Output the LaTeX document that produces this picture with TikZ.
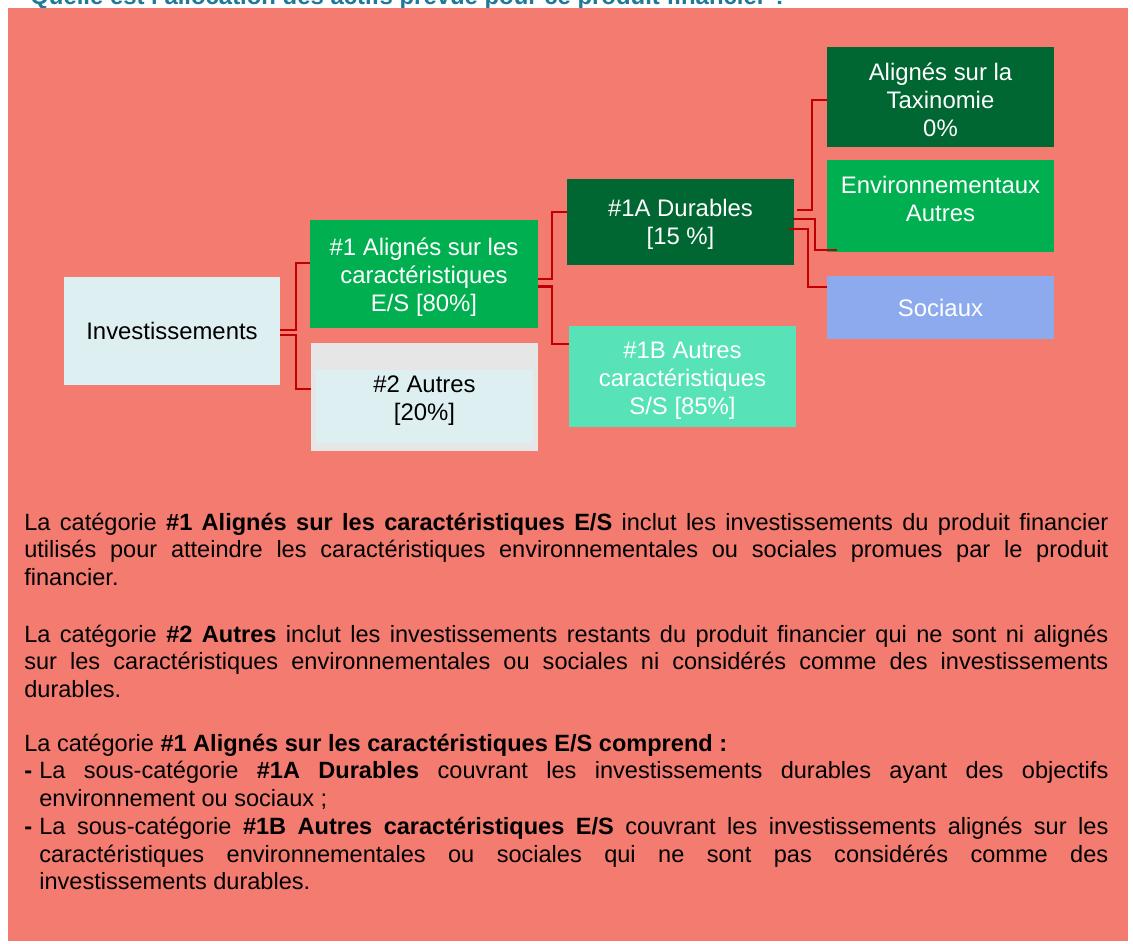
\documentclass[tikz,border=0pt]{standalone}
\usepackage{fontspec}
\setmainfont{Liberation Sans}
\usepackage{tikz}
\usetikzlibrary{positioning}

\definecolor{salmon}{RGB}{243,123,112}
\definecolor{titleteal}{RGB}{30,122,152}
\definecolor{boxlight}{RGB}{222,239,242}
\definecolor{othergray}{RGB}{230,230,230}
\definecolor{esgreen}{RGB}{0,176,80}
\definecolor{darkgreen}{RGB}{0,103,50}
\definecolor{mint}{RGB}{87,227,183}
\definecolor{socblue}{RGB}{142,170,238}
\definecolor{linkred}{RGB}{192,0,0}

\newcommand{\diagfont}{\fontsize{13.6}{15.9}\selectfont}
\newcommand{\parafont}{\fontsize{13.4}{15.8}\selectfont}

\tikzset{
  box/.style={rectangle, inner sep=0pt, minimum width=45.4mm},
  boxtxt/.style={inner sep=0pt, align=center, text=white, font=\diagfont},
  conn/.style={draw=linkred, line width=0.45mm},
  para/.style={anchor=base west, inner sep=0pt, font=\parafont},
}

\begin{document}
\begin{tikzpicture}[x=0.2mm, y=-0.2mm]
    \useasboundingbox (0,0) rectangle (1133,943);
    \clip (0,0) rectangle (1133,943);
    \fill[white] (0,0) rectangle (1133,943);
    \node[anchor=base west, inner sep=0pt, text=titleteal, font=\fontsize{13.6}{16}\selectfont\bfseries] (title) at (30,4) {Quelle est l'allocation des actifs prévue pour ce produit financier ?};
    \fill[salmon] (8,8) rectangle (1128,941);

    \node[box, fill=boxlight, minimum width=43.2mm, minimum height=21.6mm] (inv) at (172,331) {};
    \node[box, fill=esgreen, minimum width=45.6mm, minimum height=21.6mm] (es) at (424,274) {};
    \node[box, fill=othergray, minimum height=21.6mm] (oth) at (424.5,397) {};
    \fill[boxlight] ([xshift=1mm,yshift=-5.4mm]oth.north west) rectangle ([xshift=-1mm,yshift=1.6mm]oth.south east);
    \node[box, fill=darkgreen, minimum height=17.2mm] (dur) at (680.5,222) {};
    \node[box, fill=mint, minimum height=20.2mm] (autb) at (682.5,376.5) {};
    \node[box, fill=darkgreen, minimum height=20mm] (taxo) at (940.5,97) {};
    \node[box, fill=esgreen, minimum height=18.4mm] (env) at (940.5,206) {};
    \node[box, fill=socblue, minimum height=12.6mm] (soc) at (940.5,307.5) {};

    \node[boxtxt, text=black] (invtxt) at (inv) {Investissements};
    \node[boxtxt] (estxt) at ([yshift=-0.6mm]es.center) {\#1 Alignés sur les\\caractéristiques\\E/S [80\%]};
    \node[boxtxt, text=black] (othtxt) at ([yshift=-0.8mm]oth.center) {\#2 Autres\\{}[20\%]};
    \node[boxtxt] (durtxt) at ([yshift=-0.4mm]dur.center) {\#1A Durables\\{}[15 \%]};
    \node[boxtxt] (autbtxt) at ([yshift=-0.9mm]autb.center) {\#1B Autres\\caractéristiques\\S/S [85\%]};
    \node[boxtxt] (taxotxt) at ([yshift=-0.6mm]taxo.center) {Alignés sur la\\Taxinomie\\0\%};
    \node[boxtxt] (envtxt) at ([yshift=1.4mm]env.center) {Environnementaux\\Autres};
    \node[boxtxt] (soctxt) at (soc) {Sociaux};

    \draw[conn] ([yshift=0.2mm]inv.east) -- ++(3.2mm,0) |- ([yshift=2.2mm]es.west);
    \draw[conn] ([yshift=-0.8mm]inv.east) -- ++(3.2mm,0) |- ([yshift=1.6mm]oth.west);
    \draw[conn] ([yshift=-1mm]es.east) -- ++(2.8mm,0) |- ([yshift=2mm]dur.west);
    \draw[conn] ([yshift=-2.5mm]es.east) -- ++(2.8mm,0) |- ([yshift=6.5mm]autb.west);
    \draw[conn] ([xshift=0.6mm,yshift=2.4mm]dur.east) -- ++(3mm,0) |- ([yshift=-0.6mm]taxo.west);
    \draw[conn] ([xshift=-0.2mm,yshift=0.6mm]dur.east) -- ++(4.4mm,0) |- ([xshift=2mm,yshift=0.4mm]env.south west);
    \draw[conn] ([xshift=-1mm,yshift=-1.4mm]dur.east) -- ++(3.8mm,0) |- ([yshift=4.1mm]soc.west);

    \node[para] (txta) at (24,530) {\parbox[t]{216.8mm}{\hyphenpenalty=10000
      La catégorie \textbf{\#1 Alignés sur les caractéristiques E/S} inclut les investissements du produit financier\linebreak
      utilisés pour atteindre les caractéristiques environnementales ou sociales promues par le produit\linebreak
      financier.}};
    \node[para] (txtb) at (24,642) {\parbox[t]{216.8mm}{\hyphenpenalty=10000
      La catégorie \textbf{\#2 Autres} inclut les investissements restants du produit financier qui ne sont ni alignés\linebreak
      sur les caractéristiques environnementales ou sociales ni considérés comme des investissements\linebreak
      durables.}};
    \node[para] (txtc) at (24,751) {\parbox[t]{216.8mm}{\hyphenpenalty=10000
      La catégorie \textbf{\#1 Alignés sur les caractéristiques E/S comprend :}\par
      \hangindent=3mm\hangafter=1\makebox[3mm][l]{\textbf{-}}La sous-catégorie \textbf{\#1A Durables} couvrant les investissements durables ayant des objectifs\linebreak
      environnement ou sociaux ;\par
      \hangindent=3mm\hangafter=1\makebox[3mm][l]{\textbf{-}}La sous-catégorie \textbf{\#1B Autres caractéristiques E/S} couvrant les investissements alignés sur les\linebreak
      caractéristiques environnementales ou sociales qui ne sont pas considérés comme des\linebreak
      investissements durables.}};
\end{tikzpicture}
\end{document}
